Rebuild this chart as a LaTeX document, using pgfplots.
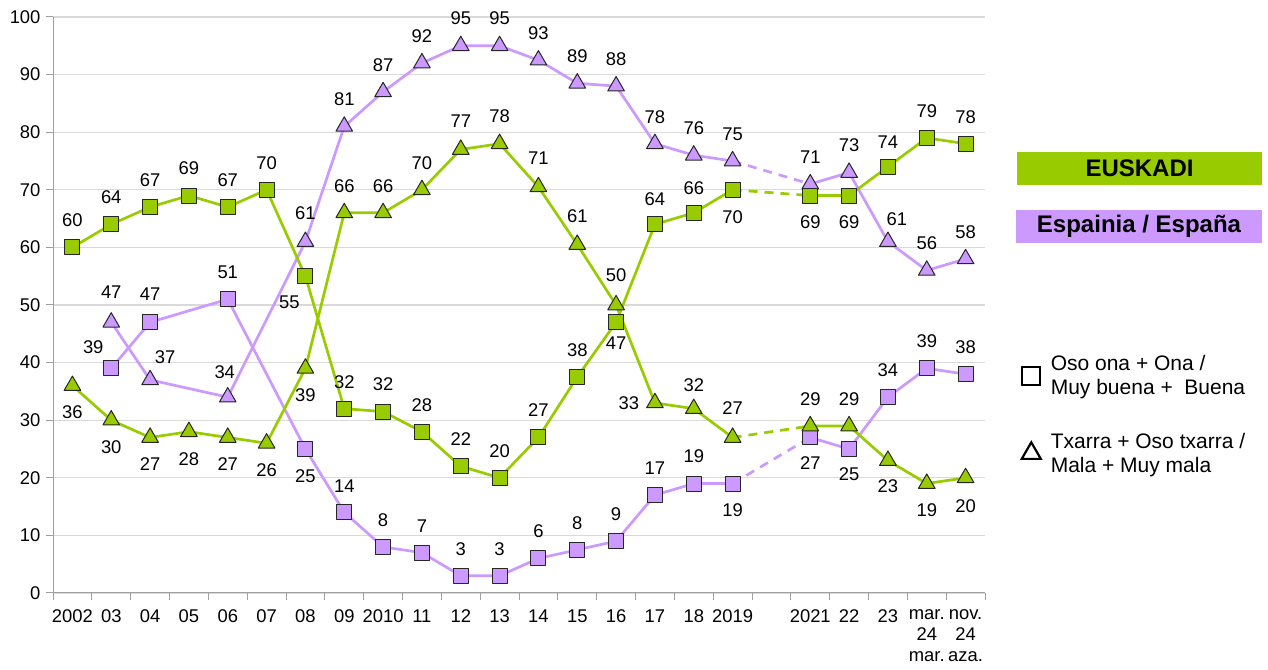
\documentclass[border=0pt]{standalone}
\usepackage{pgfplots}
\pgfplotsset{compat=1.18}
\usepackage{pgfplotstable}
\usepackage{fontspec}
\setmainfont{Liberation Sans}
\definecolor{eus}{HTML}{99CC00}
\definecolor{esp}{HTML}{CC99FF}
\definecolor{gridc}{HTML}{D9D9D9}
\definecolor{axc}{HTML}{A0A0A0}
\newcommand{\lbl}{\fontsize{18.4}{21}\selectfont}

% Euskadi: Oso ona + Ona
\pgfplotstableread{
x y lab dx dy
0 60 60 0 27
1 64 64 0 27
2 67 67 0 27
3 69 69 0 27
4 67 67 0 27
5 70 70 0 27
6 55 55 -16 -26
7 32 32 0 27
8 31.5 32 0 27
9 28 28 0 27
10 22 22 0 27
11 20 20 0 27
12 27 27 0 27
13 37.5 38 0 27
14 47 47 0 -21
15 64 64 0 25
16 66 66 0 25
17 70 70 0 -27
18 nan x 0 0
19 69 69 0 -27
20 69 69 0 -27
21 74 74 0 25
22 79 79 0 27
23 78 78 0 27
}\eg
% Euskadi: Txarra + Oso txarra
\pgfplotstableread{
x y lab dx dy
0 36 36 0 -27
1 30 30 0 -27
2 27 27 0 -27
3 28 28 0 -27
4 27 27 0 -27
5 26 26 0 -27
6 39 39 0 -27
7 66 66 0 27
8 66 66 0 27
9 70 70 0 27
10 77 77 0 28
11 78 78 0 28
12 70.5 71 0 29
13 60.5 61 0 28
14 50 50 0 30
15 33 33 -26 0
16 32 32 0 24
17 27 27 0 29
18 nan x 0 0
19 29 29 0 27
20 29 29 0 27
21 23 23 0 -26
22 19 19 0 -27
23 20 20 0 -28
}\eb
% Espana: Muy buena + Buena
\pgfplotstableread{
x y lab dx dy
1 39 39 -18 21
2 47 47 0 28
4 51 51 0 27
6 25 25 0 -27
7 14 14 0 26
8 8 8 0 27
9 7 7 0 27
10 3 3 0 27
11 3 3 0 27
12 6 6 0 27
13 7.5 8 0 27
14 9 9 0 27
15 17 17 0 27
16 19 19 0 27
17 19 19 0 -27
18 nan x 0 0
19 27 27 0 -26
20 25 25 0 -25
21 34 34 0 27
22 39 39 0 27
23 38 38 0 27
}\pg
% Espana: Mala + Muy mala
\pgfplotstableread{
x y lab dx dy
1 47 47 0 30
2 37 37 15 23
4 34 34 -3 25
6 61 61 0 28
7 81 81 0 27
8 87 87 0 27
9 92 92 0 27
10 95 95 0 28
11 95 95 0 28
12 92.5 93 0 27
13 88.5 89 0 27
14 88 88 0 27
15 78 78 0 27
16 76 76 0 27
17 75 75 0 27
18 nan x 0 0
19 71 71 0 27
20 73 73 0 27
21 61 61 9 22
22 56 56 0 27
23 58 58 0 27
}\pb

\pgfplotsset{
  serie/.style={line width=2.7pt, line join=round, unbounded coords=jump, forget plot},
  sq/.style={mark=square*, mark size=7.5pt,
    mark options={solid, fill=#1, draw=black!85, line width=1pt}},
  tri/.style={mark=triangle*, mark size=9.6pt,
    mark options={solid, fill=#1, draw=black!85, line width=1pt}},
  dashseg/.style={line width=2.7pt, dash pattern=on 9pt off 7pt, forget plot, mark=none},
  labels/.style={draw=none, mark=none, forget plot, nodes near coords,
    point meta=explicit symbolic,
    visualization depends on={\thisrow{dx}\as\dx},
    visualization depends on={\thisrow{dy}\as\dy},
    nodes near coords style={anchor=center, xshift=\dx pt, yshift=\dy pt, font=\lbl, inner sep=0pt, text=black}},
}

\begin{document}
\begin{tikzpicture}
\path[use as bounding box] (0,0) rectangle (1268pt,669pt);
\begin{axis}[
  at={(53pt,76pt)}, anchor=south west,
  scale only axis, width=932pt, height=576pt,
  clip=false,
  xmin=-0.5, xmax=23.5, ymin=0, ymax=100,
  axis lines*=left,
  axis line style={axc, line width=1pt},
  tick align=outside,
  major tick length=7pt,
  tick style={axc, line width=1pt},
  ytick={0,10,...,100},
  ymajorgrids, major grid style={gridc, line width=1.2pt},
  xtick={-0.5,0.5,...,23.5},
  xticklabels={2002,03,04,05,06,07,08,09,2010,11,12,13,14,15,16,17,18,2019,{},2021,22,23,{mar.\\24\\mar.},{nov.\\24\\aza.},{}},
  xticklabel style={align=center, font=\lbl, anchor=north, xshift=19.42pt, yshift=-6pt},
  yticklabel style={font=\lbl, xshift=-2pt},
  /pgf/number format/assume math mode=true,
  legend cell align=left,
  legend style={at={(axis description cs:1.036,0.42)}, anchor=north west, draw=none, fill=none,
    font=\fontsize{21}{24}\selectfont, row sep=33pt, column sep=8pt, cells={align=left}},
]
% dashed bridges
\addplot[dashseg, esp] coordinates {(17,75) (19,71)};
\addplot[dashseg, esp] coordinates {(17,19) (19,27)};
\addplot[dashseg, eus] coordinates {(17,70) (19,69)};
\addplot[dashseg, eus] coordinates {(17,27) (19,29)};
% series
\addplot[serie, esp, sq=esp] table[x=x,y=y]{\pg};
\addplot[serie, esp, tri=esp] table[x=x,y=y]{\pb};
\addplot[serie, eus, sq=eus] table[x=x,y=y]{\eg};
\addplot[serie, eus, tri=eus] table[x=x,y=y]{\eb};
% labels
\addplot[labels] table[x=x,y=y,meta=lab]{\pg};
\addplot[labels] table[x=x,y=y,meta=lab]{\pb};
\addplot[labels] table[x=x,y=y,meta=lab]{\eg};
\addplot[labels] table[x=x,y=y,meta=lab]{\eb};
% legend
\addlegendimage{only marks, mark=square, mark size=9pt, mark options={line width=2.2pt, draw=black, fill=white}}
\addlegendentry{Oso ona + Ona /\\Muy buena +~\ Buena}
\addlegendimage{only marks, mark=triangle, mark size=11pt, mark options={line width=2.2pt, draw=black, fill=white}}
\addlegendentry{Txarra + Oso txarra /\\Mala + Muy mala}
\end{axis}
\node[fill=eus, minimum width=245pt, minimum height=33pt, inner sep=0pt,
  font=\bfseries\fontsize{24}{24}\selectfont] at (1139.5pt,500.5pt) {EUSKADI};
\node[fill=esp, minimum width=246pt, minimum height=33pt, inner sep=0pt,
  font=\bfseries\fontsize{24}{24}\selectfont] at (1139pt,442.5pt) {Espainia / España};
\end{tikzpicture}
\end{document}
